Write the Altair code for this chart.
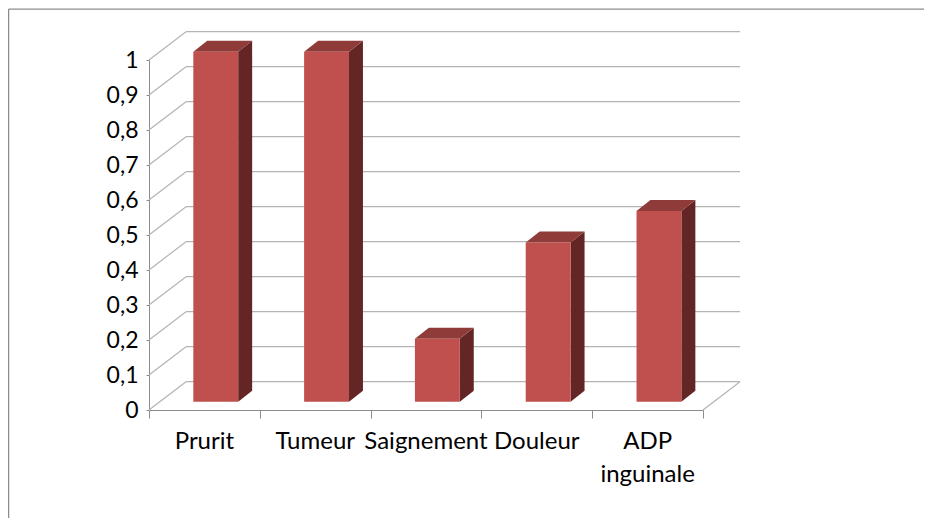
import altair as alt
import pandas as pd

# ---- data -------------------------------------------------------------
categories = ["Prurit", "Tumeur", "Saignement", "Douleur", "ADP inguinale"]
values = [1.0, 1.0, 0.18, 0.455, 0.545]
y_ticks = [0, 0.1, 0.2, 0.3, 0.4, 0.5, 0.6, 0.7, 0.8, 0.9, 1.0]

# ---- layout / pseudo-3D geometry (scale units) -------------------------
N = len(categories)
PLOT_W, PLOT_H = 554, 350
WALL_DX, WALL_DY = 0.334, 0.081     # depth offset of the back wall
BAR_L, BAR_R = 0.40, 0.805          # front face position inside a band
BAR_Z = 0.0237                      # front face base raised by its depth
SIDE_DX, SIDE_DY = 0.126, 0.031     # bar depth

FRONT = "#C0504D"
SIDE = "#632624"
TOP = "#8E3B39"
GRID = "#B4B4B4"
AXIS = "#8C8C8C"
FONT = "Lato"

idx = list(range(N))

bars = pd.DataFrame({"cat": categories, "i": idx, "v": values})
bars["xl"] = bars["i"] + BAR_L
bars["xr"] = bars["i"] + BAR_R
bars["yb"] = BAR_Z
bars["yt"] = bars["v"] + BAR_Z
bars["xc"] = bars["i"] + 0.5
bars["y0"] = 0.0

side_rows, top_rows = [], []
for c, i, v in zip(categories, idx, values):
    xl, xr, yt = i + BAR_L, i + BAR_R, v + BAR_Z
    side_rows.append({"cat": c, "x": xr, "y": BAR_Z, "y2": yt})
    side_rows.append({"cat": c, "x": xr + SIDE_DX, "y": BAR_Z + SIDE_DY, "y2": yt + SIDE_DY})
    top_rows.append({"cat": c, "y": yt, "x": xl, "x2": xr})
    top_rows.append({"cat": c, "y": yt + SIDE_DY, "x": xl + SIDE_DX, "x2": xr + SIDE_DX})
side_df = pd.DataFrame(side_rows)
top_df = pd.DataFrame(top_rows)

grid_rows = []
for t in y_ticks:
    grid_rows.append({"x": WALL_DX, "x2": N + WALL_DX, "y": t + WALL_DY, "y2": t + WALL_DY})
    grid_rows.append({"x": 0, "x2": WALL_DX, "y": t, "y2": t + WALL_DY})
grid_rows.append({"x": N, "x2": N + WALL_DX, "y": 0, "y2": WALL_DY})
grid_df = pd.DataFrame(grid_rows)

# ---- scales & axes ------------------------------------------------------
xs = alt.Scale(domain=[0, N], nice=False, zero=False)
ys = alt.Scale(domain=[0, 1], nice=False, zero=False)
x_axis = alt.Axis(values=list(range(N + 1)), labels=False, tickSize=8,
                  domainColor=AXIS, tickColor=AXIS, grid=False, title=None)
y_axis = alt.Axis(values=y_ticks, tickSize=3, labelPadding=8, labelFontSize=23,
                  labelFont=FONT, labelColor="#000000",
                  labelExpr="replace(format(datum.value, '.1~f'), '.', ',')",
                  domainColor=AXIS, tickColor=AXIS, grid=False, title=None)


def X(f, **kw):
    return alt.X(f, type="quantitative", scale=xs, axis=x_axis, **kw)


def Y(f, **kw):
    return alt.Y(f, type="quantitative", scale=ys, axis=y_axis, **kw)


grid = alt.Chart(grid_df).mark_rule(color=GRID, strokeWidth=1.2).encode(
    x=X("x"), x2="x2:Q", y=Y("y"), y2="y2:Q")

side = alt.Chart(side_df).mark_area(color=SIDE, orient="vertical").encode(
    x=X("x"), y=Y("y", stack=False), y2="y2:Q", detail="cat:N")

top = alt.Chart(top_df).mark_area(color=TOP, orient="horizontal").encode(
    y=Y("y"), x=X("x", stack=False), x2="x2:Q", detail="cat:N")

front = alt.Chart(bars).mark_rect(color=FRONT).encode(
    x=X("xl"), x2="xr:Q", y=Y("yb"), y2="yt:Q")

labels = alt.Chart(bars).mark_text(
    baseline="top", align="center", font=FONT, fontSize=24, color="#000000",
    lineBreak=" ", lineHeight=33, dy=20).encode(
    x=X("xc"), y=Y("y0"), text="cat:N")

one = pd.DataFrame({"k": [0]})
border_top = alt.Chart(one).mark_rule(color=AXIS, strokeWidth=1.3).encode(
    x=alt.value(-140.4), x2=alt.value(800), y=alt.value(-50.9), y2=alt.value(-50.9))
border_left = alt.Chart(one).mark_rule(color=AXIS, strokeWidth=1.3).encode(
    x=alt.value(-140.4), x2=alt.value(-140.4), y=alt.value(-50.9), y2=alt.value(500))

chart = alt.layer(grid, side, top, front, labels, border_top, border_left).properties(
    width=PLOT_W, height=PLOT_H,
    padding={"left": 141, "top": 52, "right": 221, "bottom": 108},
    autosize=alt.AutoSizeParams(type="none"),
    background="#FFFFFF",
).configure_view(strokeWidth=0)

chart.save("out.html", embed_options={"renderer": "svg", "actions": False})
